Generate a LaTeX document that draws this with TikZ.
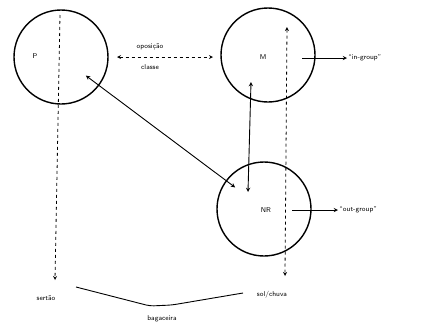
\documentclass[tikz,border=0pt]{standalone}
\usepackage{tikz}
\usetikzlibrary{positioning,calc}

\begin{document}
\begin{tikzpicture}[
            x=1pt, y=-1pt,
            every path/.style={line width=0.9pt},
            font=\sffamily\fontsize{7}{8}\selectfont,
            group/.style={
                circle,
                line width=1.4pt,
                draw=black,
                minimum size = 94pt,
                inner sep = 0pt
            },
            tag/.style={
                inner sep = 1pt
            },
            axis/.style={
                dashed,
                line width=0.8pt
            },
            >= stealth,
        ]
            \useasboundingbox (0,0) rectangle (421,327);

            % the three groups
            \node[group] (P) at (61,57) {};
            \node[tag] (Plab) at (35,56) {P};

            \node[group] (M) at (268,55) {};
            \node[tag] (Mlab) at (263,57) {M};

            \node[group] (NR) at (264,209) {};
            \node[tag] (NRlab) at (266,210) {NR};

            % oposicao de classe
            \coordinate (opL) at (117,57);
            \coordinate (opR) at (213,57);
            \draw[<->, axis] (opL) -- (opR);
            \node[tag] (opos) at (150,47) {oposição};
            \node[tag] (classe) at (150,67) {classe};

            % in-group / out-group
            \coordinate (Mout) at (302,58);
            \node[tag, anchor=west] (ingrp) at (347,58) {``in-group''};
            \draw[->] (Mout) -- (ingrp.west);

            \coordinate (NRout) at (292,210);
            \node[tag, anchor=west] (outgrp) at (338,210) {``out-group''};
            \draw[->] (NRout) -- (outgrp.west);

            % links between groups
            \draw[<->, shorten <=31pt, shorten >=36pt] (P.center) -- (NR.center);

            \coordinate (MNa) at (251,82);
            \coordinate (MNb) at (248,192);
            \draw[<->] (MNa) -- (MNb);

            % bottom axis
            \node[tag] (sertao) at (46,298) {sertão};
            \node[tag] (solchuva) at (272,295) {sol/chuva};
            \node[tag] (bagac) at (162,319) {bagaceira};

            \coordinate (Ptop) at (60,15);
            \coordinate (Pbot) at (55,280);
            \draw[->, axis] (Ptop) -- (Pbot);

            \coordinate (Mtop) at (287,27);
            \coordinate (Mbot) at (285,276);
            \draw[<->, axis] (Mtop) -- (Mbot);

            \coordinate (brA) at (76,287);
            \coordinate (brB) at (150,306);
            \coordinate (brC) at (172,305);
            \coordinate (brD) at (243,293);
            \draw[rounded corners=4pt] (brA) -- (brB) -- (brC) -- (brD);
        \end{tikzpicture}
\end{document}
